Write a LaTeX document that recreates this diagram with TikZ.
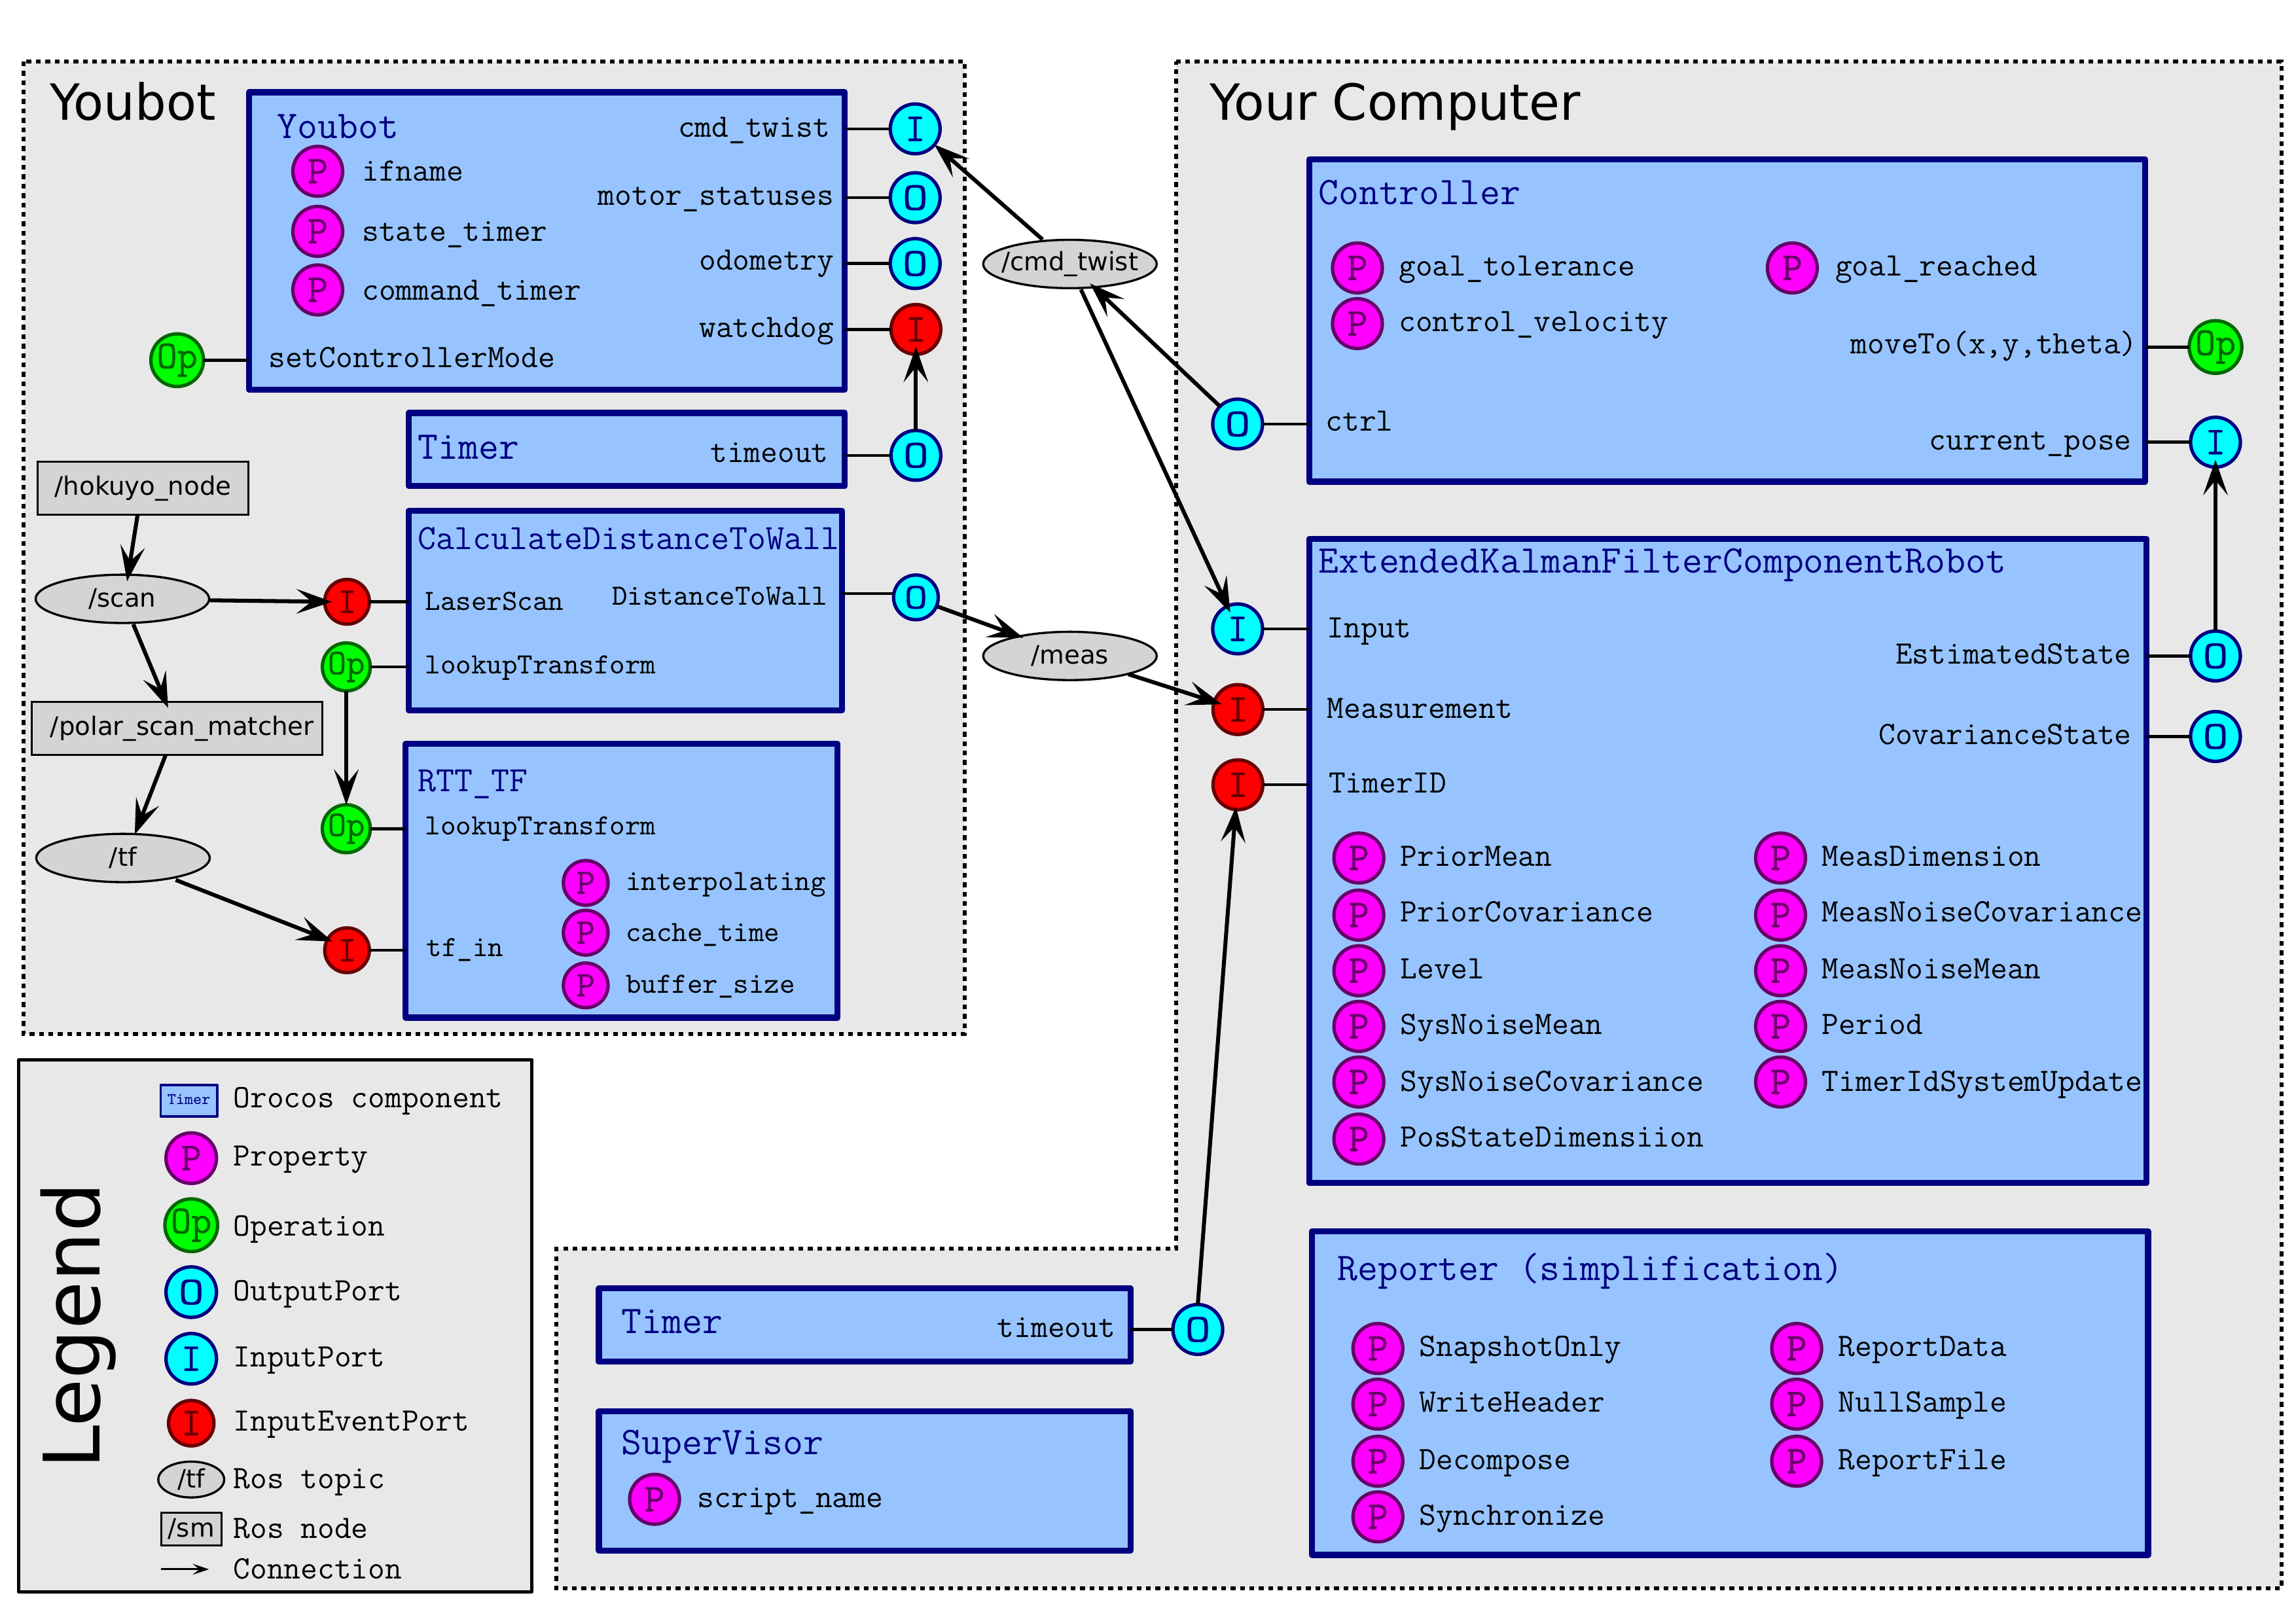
\documentclass[tikz,border=0pt]{standalone}
\usepackage{fontspec}
\setmainfont{DejaVu Sans}
\newfontfamily\portfont{Latin Modern Mono}[FakeBold=0.7]
\usetikzlibrary{shapes.geometric,arrows.meta,calc}
\definecolor{compblue}{HTML}{97C4FF}
\definecolor{areagray}{HTML}{E8E8E8}
\definecolor{rosgray}{HTML}{D3D5D4}
\definecolor{pdark}{HTML}{660066}
\definecolor{opdark}{HTML}{006600}
\definecolor{evdark}{HTML}{660000}
\definecolor{navy}{HTML}{000080}
\definecolor{pfill}{RGB}{255,0,255}
\definecolor{ofill}{RGB}{0,255,255}
\definecolor{gfill}{RGB}{0,255,0}
\definecolor{rfill}{RGB}{255,0,0}
\newcommand\fsz[1]{\fontsize{#1pt}{#1pt}\ttfamily\selectfont}
\newcommand\psz[1]{\fontsize{#1pt}{#1pt}\portfont\selectfont}
\newcommand\wO{\scalebox{1.25}[1]{O}}
\tikzset{
  area/.style={fill=areagray,draw=black,line width=1.45pt,dash pattern=on 1.75pt off 1.7pt},
  comp/.style={rectangle,draw=navy,fill=compblue,line width=2.2pt,line join=round,inner sep=0pt,outer sep=0pt},
  port/.style={circle,inner sep=0pt,outer sep=0pt,line width=1.25pt,minimum size=34*0.53694pt,font=\psz{14.5}},
  small/.style={minimum size=30.5*0.53694pt,font=\psz{13.2}},
  pP/.style={port,fill=pfill,draw=pdark,text=pdark},
  pOp/.style={port,fill=gfill,draw=opdark,text=opdark},
  pO/.style={port,fill=ofill,draw=navy,text=navy},
  pEv/.style={port,fill=rfill,draw=evdark,text=evdark},
  ttl/.style={anchor=base west,inner sep=0pt,text=navy,font=\fsz{14.4},yshift=-0.8pt},
  ttm/.style={anchor=base west,inner sep=0pt,text=navy,font=\fsz{13.05},yshift=-0.8pt},
  lab/.style={anchor=base west,inner sep=0pt,font=\fsz{12},yshift=-0.8pt},
  labr/.style={anchor=base east,inner sep=0pt,font=\fsz{12},yshift=-0.8pt,xshift=0.55pt},
  labs/.style={anchor=base west,inner sep=0pt,font=\fsz{10.75},yshift=-0.6pt},
  topic/.style={ellipse,draw=black,fill=rosgray,line width=0.8pt,inner ysep=0pt,inner xsep=-3pt,outer sep=0pt,minimum width=118.5*0.53694pt,minimum height=33*0.53694pt,font=\fontsize{9.3pt}{10pt}\selectfont},
  rosnode/.style={rectangle,draw=black,fill=rosgray,line width=0.7pt,inner sep=0pt,outer sep=0pt,font=\fontsize{9.3pt}{10pt}\selectfont},
  stub/.style={draw=black,line width=1.1pt},
  conn/.style={draw=black,line width=1.45pt,-{Stealth[length=13pt,width=9pt,inset=5.5pt]}},
}
\newcommand\comp[5]{\node[comp,minimum width={(#4-#2-2)*0.53694pt},minimum height={(#5-#3-2)*0.53694pt}] (#1) at ({(#2+#4)/2},{(#3+#5)/2}) {};}
\newcommand\ros[6]{\node[rosnode,minimum width={(#4-#2)*0.53694pt},minimum height={(#5-#3)*0.53694pt}] (#1) at ({(#2+#4)/2},{(#3+#5)/2}) {#6};}
\begin{document}
\begin{tikzpicture}[x=0.53694pt,y=-0.53694pt]
\useasboundingbox (0,0) rectangle (1568,1108.5);
\fill[white] (0,0) rectangle (1568,1108.5);
% areas
\draw[area] (16,42) rectangle (659,706);
\draw[area] (803,42) -- (1558,42) -- (1558,1085) -- (380,1085) -- (380,853) -- (803,853) -- cycle;
\node[anchor=base west,inner sep=0pt,font=\fontsize{18.3pt}{20pt}\selectfont,xscale=0.985] (tYoubot) at (34,82) {Youbot};
\node[anchor=base west,inner sep=0pt,font=\fontsize{18.3pt}{20pt}\selectfont] (tComputer) at (826,82) {Your Computer};
% legend
\draw[draw=black,fill=areagray,line width=1.2pt,line join=round] (12.8,723.8) rectangle (363.2,1087.2);
\node[anchor=base,rotate=90,inner sep=0pt,font=\fontsize{28.6pt}{29pt}\selectfont] (tLegend) at (68,905.5) {Legend};
\node[comp,line width=0.9pt,minimum width=38.5*0.53694pt,minimum height=21.5*0.53694pt] (lgComp) at (129,751.7) {};
\node[inner sep=0pt,text=navy,font=\fsz{5.93}] (lgTimer) at (129,751) {Timer};
\node[pP,minimum size=34.5*0.53694pt] (lgP) at (130.6,791) {P};
\node[pOp,minimum size=34.5*0.53694pt] (lgOp) at (130.6,836.8) {Op};
\node[pO,minimum size=34.5*0.53694pt] (lgO) at (130.6,882.5) {\wO};
\node[pO,minimum size=34.5*0.53694pt] (lgI) at (130.6,928) {I};
\node[pEv,minimum size=31*0.53694pt] (lgEv) at (130.6,972) {I};
\node[topic,minimum width=45*0.53694pt,minimum height=24.5*0.53694pt] (lgTopic) at (130.6,1010.5) {/tf};
\ros{lgNode}{110}{1033}{151.4}{1055.5}{/sm}
\coordinate (lgA) at (110,1071.8);
\coordinate (lgB) at (142.7,1071.8);
\draw[draw=black,line width=0.7pt,-{Stealth[length=6pt,width=4pt,inset=2.5pt]}] (lgA) -- (lgB);
\node[lab] (l1) at (159,755) {Orocos component};
\node[lab] (l2) at (159,795) {Property};
\node[lab] (l3) at (159,842.5) {Operation};
\node[lab] (l4) at (159,887) {OutputPort};
\node[lab] (l5) at (159,932) {InputPort};
\node[lab] (l6) at (159,976) {InputEventPort};
\node[lab] (l7) at (159,1015) {Ros topic};
\node[lab] (l8) at (159,1049) {Ros node};
\node[lab] (l9) at (159,1077) {Connection};
% Youbot component
\comp{youbot}{169}{62}{578}{267}
\node[ttl] (a1) at (189,93) {Youbot};
\node[labr] (a2) at (566,92) {cmd\_twist};
\node[labr] (a3) at (569,138.5) {motor\_statuses};
\node[labr] (a4) at (569,183) {odometry};
\node[labr] (a5) at (569,228.7) {watchdog};
\node[lab] (a6) at (183,249.5) {setControllerMode};
\node[pP] (yP1) at (217,117) {P};
\node[pP] (yP2) at (217,158) {P};
\node[pP] (yP3) at (217,198) {P};
\node[lab] (a7) at (247,122) {ifname};
\node[lab] (a8) at (247,163) {state\_timer};
\node[lab] (a9) at (247,203.6) {command\_timer};
\node[pO] (yI) at (625,88) {I};
\node[pO] (yO1) at (625,135) {\wO};
\node[pO] (yO2) at (625,180) {\wO};
\node[pEv] (yEv) at (625.5,225) {I};
\node[pOp] (yOp) at (121,246) {Op};
% Timer
\comp{timerA}{278}{281}{578}{333}
\node[ttl] (b1) at (285,312) {Timer};
\node[labr] (b2) at (565,314.5) {timeout};
\node[pO] (tO) at (625.5,311) {\wO};
% Calculate
\comp{calc}{278}{348}{576}{486}
\node[ttm] (c1) at (285,373.7) {CalculateDistanceToWall};
\node[labs] (c2) at (290,415.7) {LaserScan};
\node[labs,anchor=base east] (c3) at (565.5,412) {DistanceToWall};
\node[labs] (c4) at (290,459) {lookupTransform};
\node[pEv,small] (cEv) at (237,411) {I};
\node[pOp,small] (cOp) at (236.5,455.5) {Op};
\node[pO,small] (cO) at (625.5,408) {\wO};
% RTT
\comp{rtt}{276}{507}{573}{696}
\node[ttm] (d1) at (285,539) {RTT\_TF};
\node[labs] (d2) at (290,569) {lookupTransform};
\node[labs] (d3) at (427,607) {interpolating};
\node[labs] (d4) at (427,642) {cache\_time};
\node[labs] (d5) at (427,677) {buffer\_size};
\node[labs] (d6) at (291,652) {tf\_in};
\node[pP,small] (rP1) at (400,603) {P};
\node[pP,small] (rP2) at (400,637) {P};
\node[pP,small] (rP3) at (400,673) {P};
\node[pOp,small] (rOp) at (236.5,566) {Op};
\node[pEv,small] (rEv) at (237,649) {I};
% ROS
\ros{hok}{25.7}{315.4}{169.8}{351.4}{/hokuyo\_node}
\ros{polar}{21.8}{479.5}{220}{515.5}{\hspace*{3.76pt}/polar\_scan\_matcher}
\node[topic] (scan) at (83.6,409) {/scan};
\node[topic] (tf) at (84,586) {/tf};
\node[topic] (cmdt) at (730.7,180.3) {/cmd\_twist};
\node[topic] (meas) at (730.7,448) {/meas};
% Controller
\comp{ctrl}{893}{108}{1466}{330}
\node[ttl] (e1) at (900,138) {Controller};
\node[pP] (ctP1) at (927,183) {P};
\node[pP] (ctP2) at (927,221) {P};
\node[pP] (ctP3) at (1224,183) {P};
\node[lab] (e2) at (955,187) {goal\_tolerance};
\node[lab] (e3) at (955,225) {control\_velocity};
\node[lab] (e4) at (1253,187) {goal\_reached};
\node[labr] (e5) at (1459,240) {moveTo(x,y,theta)};
\node[labr] (e6) at (1455,306) {current\_pose};
\node[lab] (e7) at (905,293) {ctrl};
\node[pO] (ctO) at (845.2,289.6) {\wO};
\node[pOp] (ctOp) at (1513,237) {Op};
\node[pO] (ctI) at (1513,302) {I};
% EKF
\comp{ekf}{893}{367}{1467}{809}
\node[ttl] (f1) at (900,390) {ExtendedKalmanFilterComponentRobot};
\node[lab] (f2) at (906,434) {Input};
\node[lab] (f3) at (906,489) {Measurement};
\node[lab] (f4) at (907,540) {TimerID};
\node[labr] (f5) at (1455,452) {EstimatedState};
\node[labr] (f6) at (1455,507) {CovarianceState};
\node[pO] (eI) at (845.2,429.5) {I};
\node[pEv] (eEv1) at (845.4,484.6) {I};
\node[pEv] (eEv2) at (845.4,536) {I};
\node[pO] (eO1) at (1513,448) {\wO};
\node[pO] (eO2) at (1513,503) {\wO};
\node[pP] (eP1) at (928,586) {P};
\node[pP] (eP2) at (928,625) {P};
\node[pP] (eP3) at (928,663) {P};
\node[pP] (eP4) at (928,701) {P};
\node[pP] (eP5) at (928,739) {P};
\node[pP] (eP6) at (928,778) {P};
\node[lab] (g1) at (956,590) {PriorMean};
\node[lab] (g2) at (956,628) {PriorCovariance};
\node[lab] (g3) at (956,667) {Level};
\node[lab] (g4) at (956,705) {SysNoiseMean};
\node[lab] (g5) at (956,744) {SysNoiseCovariance};
\node[lab] (g6) at (956,782) {PosStateDimensiion};
\node[pP] (eQ1) at (1216,586) {P};
\node[pP] (eQ2) at (1216,625) {P};
\node[pP] (eQ3) at (1216,663) {P};
\node[pP] (eQ4) at (1216,701) {P};
\node[pP] (eQ5) at (1216,739) {P};
\node[lab] (h1) at (1244,590) {MeasDimension};
\node[lab] (h2) at (1244,628) {MeasNoiseCovariance};
\node[lab] (h3) at (1244,667) {MeasNoiseMean};
\node[lab] (h4) at (1244,705) {Period};
\node[lab] (h5) at (1244,744) {TimerIdSystemUpdate};
% Reporter
\comp{rep}{895}{840}{1468}{1063}
\node[ttl] (i1) at (913,873) {Reporter (simplification)};
\node[pP] (rpP1) at (941,921) {P};
\node[pP] (rpP2) at (941,959) {P};
\node[pP] (rpP3) at (941,998) {P};
\node[pP] (rpP4) at (941,1036) {P};
\node[lab] (i2) at (969,925) {SnapshotOnly};
\node[lab] (i3) at (969,963) {WriteHeader};
\node[lab] (i4) at (969,1002) {Decompose};
\node[lab] (i5) at (969,1040) {Synchronize};
\node[pP] (rpQ1) at (1227,921) {P};
\node[pP] (rpQ2) at (1227,959) {P};
\node[pP] (rpQ3) at (1227,998) {P};
\node[lab] (i6) at (1255,925) {ReportData};
\node[lab] (i7) at (1255,963) {NullSample};
\node[lab] (i8) at (1255,1002) {ReportFile};
% Timer 2
\comp{timerB}{408}{879}{773}{931}
\node[ttl] (j1) at (424,909) {Timer};
\node[labr] (j2) at (761,912) {timeout};
\node[pO] (tbO) at (818,908) {\wO};
% Supervisor
\comp{sup}{408}{963}{773}{1060}
\node[ttl] (k1) at (424,992) {SuperVisor};
\node[pP] (supP) at (447,1024) {P};
\node[lab] (k2) at (476,1028) {script\_name};
% stubs
\draw[stub] (yI) -- (youbot.east |- yI);
\draw[stub] (yO1) -- (youbot.east |- yO1);
\draw[stub] (yO2) -- (youbot.east |- yO2);
\draw[stub] (yEv) -- (youbot.east |- yEv);
\draw[stub] (yOp) -- (youbot.west |- yOp);
\draw[stub] (tO) -- (timerA.east |- tO);
\draw[stub] (cEv) -- (calc.west |- cEv);
\draw[stub] (cOp) -- (calc.west |- cOp);
\draw[stub] (cO.170) -- (calc.east |- cO.170);
\draw[stub] (rOp) -- (rtt.west |- rOp);
\draw[stub] (rEv) -- (rtt.west |- rEv);
\draw[stub] (ctO) -- (ctrl.west |- ctO);
\draw[stub] (ctOp) -- (ctrl.east |- ctOp);
\draw[stub] (ctI) -- (ctrl.east |- ctI);
\draw[stub] (eI) -- (ekf.west |- eI);
\draw[stub] (eEv1) -- (ekf.west |- eEv1);
\draw[stub] (eEv2) -- (ekf.west |- eEv2);
\draw[stub] (eO1) -- (ekf.east |- eO1);
\draw[stub] (eO2) -- (ekf.east |- eO2);
\draw[stub] (tbO) -- (timerB.east |- tbO);
% connections
\draw[conn] ($(hok)+(-3.75,18)$) -- ($(scan)+(3.2,-12)$);
\draw[conn] ($(scan)+(59.6,1)$) -- ($(cEv)+(-10.3,0)$);
\draw[conn] ($(scan)+(7.4,17.3)$) -- ($(polar)+(-6.1,-14)$);
\draw[conn] ($(polar)+(-7.7,18)$) -- ($(tf)+(8,-16)$);
\draw[conn] ($(tf)+(36,15)$) -- ($(rEv)+(-10,-6)$);
\draw[conn] (cOp.south) -- (rOp.north);
\draw[conn] (tO.north) -- ($(yEv)+(0,11.8)$);
\draw[conn] (eO1.north) -- ($(ctI)+(0,12)$);
\draw[conn] ($(cmdt)+(-18.7,-16.7)$) -- ($(yI)+(13,10.7)$);
\draw[conn] (ctO.135) -- ($(cmdt)+(13.7,13.3)$);
\draw[conn] ($(cmdt)+(7.5,17.4)$) -- ($(eI)+(-5,-11.1)$);
\draw[conn] ($(cO)+(15,6.3)$) -- ($(meas)+(-31.9,-12.4)$);
\draw[conn] ($(meas)+(39.9,12.5)$) -- ($(eEv1)+(-10.9,-3.6)$);
\draw[conn] (tbO.north) -- ($(eEv2)+(-1.4,15)$);
\end{tikzpicture}
\end{document}
